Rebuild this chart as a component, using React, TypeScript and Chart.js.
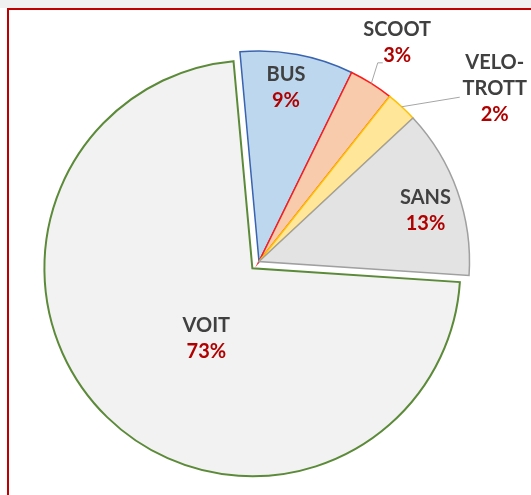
import React, { useEffect, useRef } from "react";
import { Chart, registerables } from "chart.js";

Chart.register(...registerables);

// ---- data ----
const categories = ["BUS", "SCOOT", "VELO-TROTT", "SANS", "VOIT"];
const categoryLines = [["BUS"], ["SCOOT"], ["VELO-", "TROTT"], ["SANS"], ["VOIT"]];
const shares = [8.7, 3.4, 2.4, 13.0, 72.5];
const percentLabels = shares.map((v) => Math.round(v) + "%");

// ---- styles ----
const fillColors = ["#bdd7ee", "#f8cbad", "#ffe699", "#e3e3e3", "#f2f2f2"];
const borderColors = ["#3a64b0", "#ff1a1a", "#ffc000", "#a0a0a0", "#5b8a38"];
const borderWidths = [1.5, 1.5, 1.5, 1.5, 2];
const explodeBy = [0, 0, 0, 0, 9.5];
const sliceScale = [1, 1, 1, 1, 0.988];
const labelPlacement: { dAngle: number; r: number; leader?: number[][] }[] = [
  { dAngle: -1.66, r: 0.839 },
  { dAngle: 0, r: 1.231, leader: [[-19.5, 20.5], [-14.5, 20.5]] },
  { dAngle: 11.0, r: 1.39, leader: [[-35, 9]] },
  { dAngle: 2.4, r: 0.828 },
  { dAngle: -10.6, r: 0.399 },
];
const FONT_SIZE = 20;
const LINE_HEIGHT = 26;
const NAME_COLOR = "#404040";
const PCT_COLOR = "#b00000";

const explodePlugin = {
  id: "explodeSlices",
  beforeDatasetsDraw(chart: any) {
    const meta = chart.getDatasetMeta(0);
    meta.data.forEach((el: any, i: number) => {
      const d = explodeBy[i] || 0;
      const s = sliceScale[i] || 1;
      if ((!d && s === 1) || el.__exploded) return;
      const orig = el.draw.bind(el);
      el.draw = (ctx: CanvasRenderingContext2D, area: any) => {
        const mid = (el.startAngle + el.endAngle) / 2;
        ctx.save();
        ctx.translate(el.x + Math.cos(mid) * d, el.y + Math.sin(mid) * d);
        ctx.scale(s, s);
        ctx.translate(-el.x, -el.y);
        orig(ctx, area);
        ctx.restore();
      };
      el.__exploded = true;
    });
  },
};

const labelPlugin = {
  id: "sliceLabels",
  afterDatasetsDraw(chart: any) {
    const ctx: CanvasRenderingContext2D = chart.ctx;
    const meta = chart.getDatasetMeta(0);
    meta.data.forEach((el: any, i: number) => {
      const mid = (el.startAngle + el.endAngle) / 2;
      const d = explodeBy[i] || 0;
      const cx = el.x + Math.cos(mid) * d;
      const cy = el.y + Math.sin(mid) * d;
      const R = el.outerRadius * (sliceScale[i] || 1);
      const place = labelPlacement[i];
      const a = mid + (place.dAngle * Math.PI) / 180;
      const px = cx + Math.cos(a) * place.r * R;
      const py = cy + Math.sin(a) * place.r * R;
      ctx.save();
      if (place.leader) {
        ctx.strokeStyle = "#a6a6a6";
        ctx.lineWidth = 1;
        ctx.beginPath();
        ctx.moveTo(cx + Math.cos(mid) * R, cy + Math.sin(mid) * R);
        place.leader.forEach(([dx, dy]) => ctx.lineTo(px + dx, py + dy));
        ctx.stroke();
      }
      const lines = [...categoryLines[i], percentLabels[i]];
      ctx.font = `bold ${FONT_SIZE}px Lato, "Open Sans", sans-serif`;
      ctx.textAlign = "center";
      ctx.textBaseline = "alphabetic";
      const cap = FONT_SIZE * 0.7165;
      lines.forEach((t, k) => {
        ctx.fillStyle = k === lines.length - 1 ? PCT_COLOR : NAME_COLOR;
        const y = py + (k - (lines.length - 1) / 2) * LINE_HEIGHT + cap / 2;
        ctx.fillText(t, px, y);
      });
      ctx.restore();
    });
  },
};

export default function App() {
  const ref = useRef<HTMLCanvasElement | null>(null);
  useEffect(() => {
    if (!ref.current) return;
    const chart = new Chart(ref.current, {
      type: "pie",
      data: {
        labels: categories,
        datasets: [
          {
            data: shares,
            backgroundColor: fillColors,
            borderColor: borderColors,
            borderWidth: borderWidths,
            borderJoinStyle: "miter",
          } as any,
        ],
      },
      options: {
        responsive: false,
        animation: false,
        rotation: -5.2,
        radius: 210.5,
        layout: { padding: { left: 1, right: 14, top: 28, bottom: 0 } },
        plugins: {
          legend: { display: false },
          tooltip: { enabled: false },
        },
      } as any,
      plugins: [explodePlugin, labelPlugin],
    });
    return () => chart.destroy();
  }, []);

  return (
    <div
      style={{
        position: "fixed",
        left: 0,
        top: 0,
        width: 531,
        height: 495,
        background: "#ffffff",
        overflow: "hidden",
      }}
    >
      <div style={{ position: "absolute", left: 0, top: 0, width: 531, height: 8, background: "#f0f0f0" }} />
      <div
        style={{
          position: "absolute",
          left: 7,
          top: 8,
          width: 540,
          height: 500,
          borderLeft: "2px solid #c00000",
          borderTop: "2px solid #c00000",
        }}
      />
      <canvas ref={ref} width={531} height={495} style={{ position: "absolute", left: 0, top: 0 }} />
    </div>
  );
}
